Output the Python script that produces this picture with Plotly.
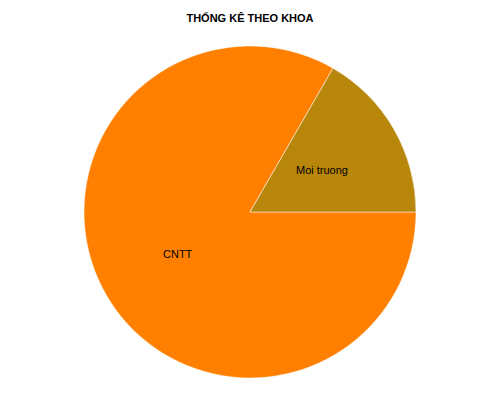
import plotly.graph_objects as go
import math

labels = ["CNTT", "Moi truong"]
values = [5, 1]
colors = ["#FF8000", "#B8860B"]
title = "THỐNG KÊ THEO KHOA"

W, H = 500, 400
ML, MR, MT, MB = 0, 16, 38, 30
pw, ph = W - ML - MR, H - MT - MB
radius_px = min(pw, ph) / 2

fig = go.Figure(go.Pie(
    labels=labels, values=values, sort=False,
    direction="counterclockwise", rotation=90,
    marker=dict(colors=colors, line=dict(color="white", width=0.5)),
    textinfo="none",
    showlegend=False, hoverinfo="label+value",
))

# label each slice at half radius along its bisector (counterclockwise, first slice ends at 3 o'clock)
total = sum(values)
end = 0.0
annotations = []
for lab, v in zip(labels, values):
    span = 360.0 * v / total
    start = end - span
    mid = math.radians((start + end) / 2)
    end = start
    annotations.append(dict(
        text=lab, showarrow=False, xref="paper", yref="paper",
        x=0.5 + 0.5 * radius_px * math.cos(mid) / pw,
        y=0.5 + 0.5 * radius_px * math.sin(mid) / ph,
        font=dict(family="Arial, Liberation Sans, sans-serif", size=11, color="black"),
    ))

fig.update_layout(
    width=W, height=H,
    margin=dict(l=ML, r=MR, t=MT, b=MB),
    paper_bgcolor="white",
    annotations=annotations,
    title=dict(text="<b>" + title + "</b>", x=0.484, xanchor="center", y=0.975, yanchor="middle",
               font=dict(family="Arial, Liberation Sans, sans-serif", size=11, color="black")),
)
fig.write_html("out.html")
